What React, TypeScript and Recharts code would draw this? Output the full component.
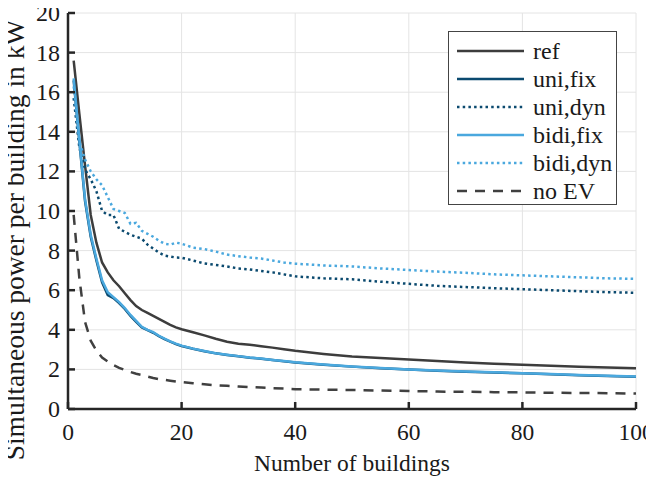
import React from 'react';
import { LineChart, Line, XAxis, YAxis, CartesianGrid } from 'recharts';

// Number of buildings aggregated (x positions of the samples)
const buildings = [
  1, 2, 3, 4, 5, 6, 7, 8, 9, 10, 11, 12, 13, 14, 15, 16, 17, 18, 19, 20,
  22, 24, 26, 28, 30, 32, 34, 36, 38, 40,
  45, 50, 55, 60, 65, 70, 75, 80, 85, 90, 95, 100,
];

// Simultaneous power per building in kW for each scenario
const refPower = [
  17.6, 14.9, 12.3, 9.8, 8.4, 7.4, 6.9, 6.5, 6.2, 5.85, 5.5, 5.2, 5.0, 4.85, 4.7, 4.55, 4.4, 4.25, 4.12, 4.03,
  3.88, 3.72, 3.55, 3.4, 3.3, 3.24, 3.17, 3.1, 3.02, 2.94,
  2.78, 2.65, 2.57, 2.5, 2.42, 2.35, 2.29, 2.23, 2.18, 2.14, 2.1, 2.06,
];
const uniFix = [
  16.6, 13.5, 10.5, 8.7, 7.5, 6.4, 5.75, 5.6, 5.35, 5.05, 4.7, 4.4, 4.12, 3.98, 3.85, 3.68, 3.53, 3.4, 3.28, 3.18,
  3.04, 2.92, 2.81, 2.73, 2.66, 2.59, 2.54, 2.47, 2.41, 2.35,
  2.24, 2.14, 2.06, 1.99, 1.93, 1.88, 1.84, 1.8, 1.76, 1.71, 1.67, 1.63,
];
const uniDyn = [
  15.7, 13.2, 12.1, 11.6, 11.0, 10.0, 9.8, 9.8, 9.1, 8.95, 8.8, 8.7, 8.6, 8.3, 8.1, 7.9, 7.75, 7.7, 7.65, 7.64,
  7.5, 7.35, 7.28, 7.2, 7.1, 7.05, 6.97, 6.9, 6.8, 6.7,
  6.6, 6.55, 6.43, 6.32, 6.22, 6.16, 6.1, 6.05, 6.0, 5.95, 5.9, 5.87,
];
const bidiFix = [
  16.7, 13.6, 10.6, 8.8, 7.6, 6.5, 5.9, 5.65, 5.4, 5.1, 4.75, 4.45, 4.15, 4.0, 3.88, 3.7, 3.55, 3.42, 3.3, 3.2,
  3.05, 2.93, 2.82, 2.74, 2.67, 2.6, 2.55, 2.48, 2.42, 2.36,
  2.25, 2.15, 2.07, 2.0, 1.94, 1.89, 1.85, 1.81, 1.77, 1.72, 1.68, 1.64,
];
const bidiDyn = [
  16.3, 13.5, 12.6, 12.0, 11.6, 11.3, 10.7, 10.1, 10.0, 9.9, 9.35, 9.4, 9.0, 8.85, 8.7, 8.5, 8.35, 8.3, 8.4, 8.35,
  8.15, 8.08, 7.95, 7.8, 7.72, 7.65, 7.6, 7.5, 7.4, 7.34,
  7.25, 7.2, 7.1, 7.02, 6.94, 6.88, 6.8, 6.75, 6.7, 6.65, 6.6, 6.57,
];
const noEV = [
  9.8, 6.6, 4.4, 3.45, 2.95, 2.6, 2.4, 2.22, 2.08, 1.97, 1.87, 1.78, 1.72, 1.64, 1.57, 1.51, 1.47, 1.43, 1.39, 1.36,
  1.3, 1.25, 1.2, 1.17, 1.14, 1.11, 1.08, 1.05, 1.03, 1.0,
  0.98, 0.96, 0.93, 0.91, 0.88, 0.87, 0.85, 0.84, 0.82, 0.81, 0.8, 0.78,
];

const xTicks = [0, 20, 40, 60, 80, 100];
const yTicks = [0, 2, 4, 6, 8, 10, 12, 14, 16, 18, 20];

const FONT = '"Liberation Serif", "Times New Roman", serif';
const AXIS = '#262626';
const TEXT = '#1a1a1a';
const TICK_LEN = 7;

const data = buildings.map((n, i) => ({
  n,
  ref: refPower[i],
  uniFix: uniFix[i],
  uniDyn: uniDyn[i],
  bidiFix: bidiFix[i],
  bidiDyn: bidiDyn[i],
  noEV: noEV[i],
}));

const series = [
  { key: 'ref', name: 'ref', color: '#3d3d3d', dash: undefined as string | undefined },
  { key: 'uniFix', name: 'uni,fix', color: '#0b4a6f', dash: undefined },
  { key: 'uniDyn', name: 'uni,dyn', color: '#0b4a6f', dash: '2.5 3.2' },
  { key: 'bidiFix', name: 'bidi,fix', color: '#4aa8de', dash: undefined },
  { key: 'bidiDyn', name: 'bidi,dyn', color: '#4aa8de', dash: '2.5 3.2' },
  { key: 'noEV', name: 'no EV', color: '#404040', dash: '10 8' },
];

const textStyle = { fontFamily: FONT };

const BottomTick = (props: any) => {
  const { x, y, payload } = props;
  return (
    <g>
      <line x1={x} x2={x} y1={y} y2={y - TICK_LEN} stroke={AXIS} strokeWidth={2.5} />
      <text x={x} y={y + 31} textAnchor="middle" style={textStyle} fontSize={23.5} fill={TEXT}>
        {payload.value}
      </text>
    </g>
  );
};

const TopTick = (props: any) => {
  const { x, y } = props;
  return <line x1={x} x2={x} y1={y} y2={y + TICK_LEN} stroke={AXIS} strokeWidth={2.5} />;
};

const LeftTick = (props: any) => {
  const { x, y, payload } = props;
  return (
    <g>
      <line x1={x} x2={x + TICK_LEN} y1={y} y2={y} stroke={AXIS} strokeWidth={2.5} />
      <text x={x - 8} y={y + 8} textAnchor="end" style={textStyle} fontSize={24} fill={TEXT}>
        {payload.value}
      </text>
    </g>
  );
};

const RightTick = (props: any) => {
  const { x, y } = props;
  return <line x1={x} x2={x - TICK_LEN} y1={y} y2={y} stroke={AXIS} strokeWidth={2.5} />;
};

// Legend box drawn over the upper right of the plot
const LegendBox = () => (
  <div
    style={{
      position: 'absolute',
      left: 440,
      top: 23,
      width: 167,
      height: 167,
      border: '1px solid #444',
      background: '#fff',
      paddingTop: 5,
      boxSizing: 'content-box',
      fontFamily: FONT,
    }}
  >
    {series.map((s) => (
      <div key={s.key} style={{ height: 28, display: 'flex', alignItems: 'center' }}>
        <svg width={84} height={28} style={{ display: 'block' }}>
          <line
            x1={8}
            x2={75}
            y1={14}
            y2={14}
            stroke={s.color}
            strokeWidth={2.5}
            strokeDasharray={s.dash}
          />
        </svg>
        <span style={{ fontSize: 24, color: TEXT, lineHeight: '28px' }}>{s.name}</span>
      </div>
    ))}
  </div>
);

export default function App() {
  return (
    <div style={{ width: 646, height: 469, position: 'relative', background: '#fff' }}>
      <LineChart
        width={646}
        height={469}
        data={data}
        margin={{ top: 5, right: 18, bottom: 0, left: 0 }}
      >
        <CartesianGrid stroke="#e4e4e4" strokeWidth={1} />
        <XAxis
          dataKey="n"
          type="number"
          domain={[0, 100]}
          ticks={xTicks}
          allowDataOverflow
          height={68}
          tickSize={0}
          tickMargin={0}
          tickLine={false}
          axisLine={{ stroke: AXIS, strokeWidth: 2.5 }}
          tick={<BottomTick />}
          interval={0}
          label={() => (
            <text x={344} y={463} textAnchor="middle" style={textStyle} fontSize={23.5} fill={TEXT}>
              Number of buildings
            </text>
          )}
        />
        <XAxis
          xAxisId="top"
          orientation="top"
          dataKey="n"
          type="number"
          domain={[0, 100]}
          ticks={xTicks}
          allowDataOverflow
          height={0}
          tickSize={0}
          tickMargin={0}
          tickLine={false}
          axisLine={{ stroke: AXIS, strokeWidth: 2.5 }}
          tick={<TopTick />}
          interval={0}
        />
        <YAxis
          type="number"
          domain={[0, 20]}
          ticks={yTicks}
          allowDataOverflow
          width={60}
          tickSize={0}
          tickMargin={0}
          tickLine={false}
          axisLine={{ stroke: AXIS, strokeWidth: 2.5 }}
          tick={<LeftTick />}
          interval={0}
          label={() => (
            <text
              x={16}
              y={232}
              transform="rotate(-90 16 232)"
              textAnchor="middle"
              style={textStyle}
              fontSize={27.5}
              fill={TEXT}
            >
              Simultaneous power per building in kW
            </text>
          )}
        />
        <YAxis
          yAxisId="right"
          orientation="right"
          type="number"
          domain={[0, 20]}
          ticks={yTicks}
          allowDataOverflow
          width={0}
          tickSize={0}
          tickMargin={0}
          tickLine={false}
          axisLine={{ stroke: AXIS, strokeWidth: 2.5 }}
          tick={<RightTick />}
          interval={0}
        />
        {series.map((s) => (
          <Line
            key={s.key}
            type="linear"
            dataKey={s.key}
            name={s.name}
            stroke={s.color}
            strokeWidth={2.5}
            strokeDasharray={s.dash}
            dot={false}
            activeDot={false}
            isAnimationActive={false}
          />
        ))}
      </LineChart>
      <LegendBox />
    </div>
  );
}
